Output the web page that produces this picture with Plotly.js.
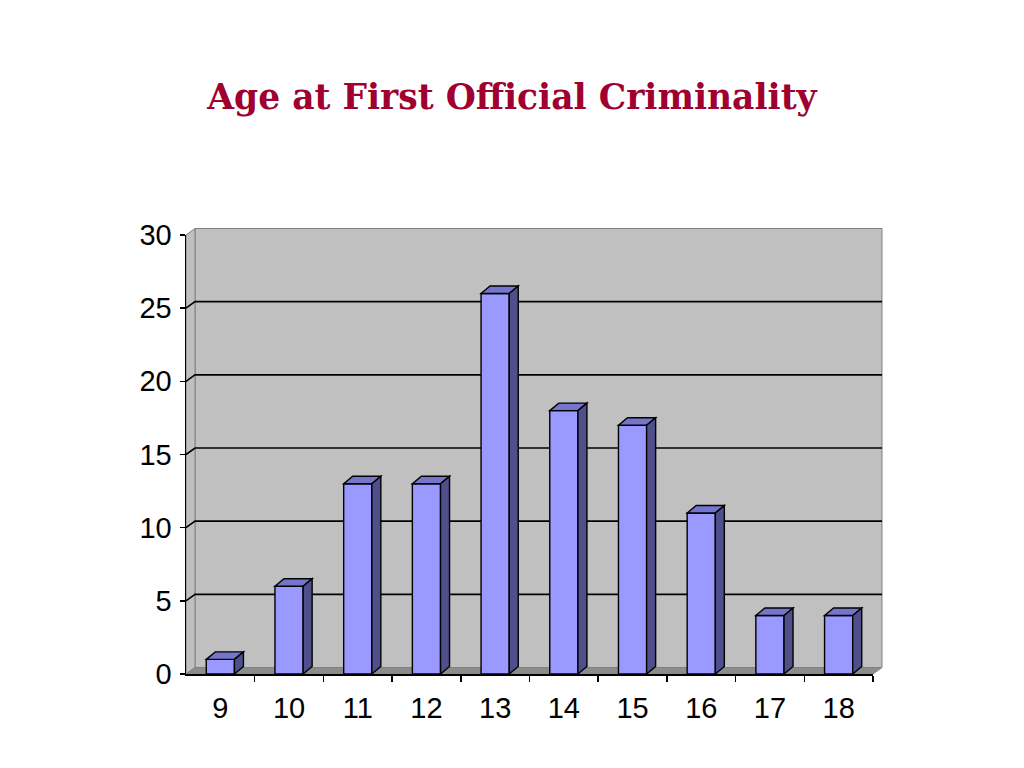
<!DOCTYPE html>
<html>
<head>
<meta charset="utf-8">
<script src="https://cdn.plot.ly/plotly-3.0.1.min.js"></script>
<style>html,body{margin:0;padding:0;background:#fff;}#chart{width:1024px;height:768px;}</style>
</head>
<body>
<div id="chart"></div>
<script>
// ---- data ----
const ages = [9, 10, 11, 12, 13, 14, 15, 16, 17, 18];
const counts = [1, 6, 13, 13, 26, 18, 17, 11, 4, 4];
const yTicks = [0, 5, 10, 15, 20, 25, 30];
const chartTitle = 'Age at First Official Criminality';

// ---- geometry ----
const W = 1024, H = 768;
const M = {l: 186, r: 151, t: 235, b: 94};
const xRange = [8.5, 18.5];
const yRange = [0, 30];
const plotW = W - M.l - M.r, plotH = H - M.t - M.b;
const pxX = plotW / (xRange[1] - xRange[0]);
const pxY = plotH / (yRange[1] - yRange[0]);
const wallDX = 9 / pxX, wallDY = 6.5 / pxY;   // depth of walls in data units
const barDX = 9 / pxX, barDY = 7.5 / pxY;     // depth of bars in data units
const barW = 0.41;

function px(x) { return (x - xRange[0]) / (xRange[1] - xRange[0]); }
function py(y) { return (y - yRange[0]) / (yRange[1] - yRange[0]); }
function paperPath(pts) {
  return 'M' + pts.map(p => px(p[0]) + ',' + py(p[1])).join('L') + 'Z';
}
function paperLine(pts) {
  return 'M' + pts.map(p => px(p[0]) + ',' + py(p[1])).join('L');
}
function dataPath(pts) {
  return 'M' + pts.map(p => p[0] + ',' + p[1]).join('L') + 'Z';
}

const shapes = [];
const x0 = xRange[0], x1 = xRange[1], yTop = yRange[1];
// back wall
shapes.push({type: 'path', xref: 'paper', yref: 'paper', layer: 'below',
  path: paperPath([[x0 + wallDX, wallDY], [x1 + wallDX, wallDY], [x1 + wallDX, yTop + wallDY], [x0 + wallDX, yTop + wallDY]]),
  fillcolor: '#C0C0C0', line: {color: '#808080', width: 1}});
// left wall
shapes.push({type: 'path', xref: 'paper', yref: 'paper', layer: 'below',
  path: paperPath([[x0, 0], [x0 + wallDX, wallDY], [x0 + wallDX, yTop + wallDY], [x0, yTop]]),
  fillcolor: '#C0C0C0', line: {color: '#808080', width: 1}});
// floor
shapes.push({type: 'path', xref: 'paper', yref: 'paper', layer: 'below',
  path: paperPath([[x0, 0], [x1, 0], [x1 + wallDX, wallDY], [x0 + wallDX, wallDY]]),
  fillcolor: '#8C8C8C', line: {color: '#808080', width: 1}});
// gridlines on walls
yTicks.forEach(v => {
  if (v <= yRange[0] || v >= yRange[1]) return;
  shapes.push({type: 'path', xref: 'paper', yref: 'paper', layer: 'below',
    path: paperLine([[x0, v], [x0 + wallDX, v + wallDY], [x1 + wallDX, v + wallDY]]),
    line: {color: '#000000', width: 1.6}});
});
// bar tops and sides
ages.forEach((a, i) => {
  const v = counts[i];
  const l = a - barW / 2, r = a + barW / 2;
  shapes.push({type: 'path', xref: 'x', yref: 'y', layer: 'above',
    path: dataPath([[l, v], [l + barDX, v + barDY], [r + barDX, v + barDY], [r, v]]),
    fillcolor: '#7575CC', line: {color: '#000000', width: 1.4}});
  shapes.push({type: 'path', xref: 'x', yref: 'y', layer: 'above',
    path: dataPath([[r, 0], [r, v], [r + barDX, v + barDY], [r + barDX, barDY]]),
    fillcolor: '#4F4F8C', line: {color: '#000000', width: 1.4}});
});

const boundaries = ages.map(a => a + 0.5);

const trace = {
  type: 'bar', x: ages, y: counts, width: barW,
  marker: {color: '#9999FF', line: {color: '#000000', width: 1.4}},
  hoverinfo: 'x+y'
};

const tickFont = {family: '"Liberation Sans", Arial, sans-serif', size: 29, color: '#000000'};

const layout = {
  width: W, height: H,
  margin: M,
  paper_bgcolor: '#FFFFFF',
  plot_bgcolor: 'rgba(0,0,0,0)',
  showlegend: false,
  title: {
    text: '<b>' + chartTitle + '</b>',
    font: {family: '"DejaVu Serif", "Liberation Serif", serif', size: 34.5, color: '#A00030'},
    x: 0.5, xref: 'container', xanchor: 'center',
    y: 1 - 97 / H, yref: 'container', yanchor: 'middle'
  },
  xaxis: {
    range: xRange, showgrid: false, zeroline: false,
    showline: true, linecolor: '#000000', linewidth: 1.5,
    tickmode: 'array', tickvals: ages, ticktext: ages.map(String),
    ticks: '', ticklabelstandoff: 8,
    tickfont: tickFont,
    minor: {tickmode: 'array', tickvals: boundaries, ticks: 'outside', ticklen: 6, tickwidth: 1.5, tickcolor: '#000000', showgrid: false},
    fixedrange: true
  },
  yaxis: {
    range: yRange, showgrid: false, zeroline: false,
    showline: true, linecolor: '#000000', linewidth: 1.5,
    tickmode: 'array', tickvals: yTicks, ticktext: yTicks.map(String),
    ticks: 'outside', ticklen: 5, tickwidth: 1.5, tickcolor: '#000000',
    ticklabelstandoff: 2,
    tickfont: tickFont,
    fixedrange: true
  },
  shapes: shapes,
  bargap: 0
};

Plotly.newPlot('chart', [trace], layout, {displayModeBar: false, staticPlot: true});
</script>
</body>
</html>
